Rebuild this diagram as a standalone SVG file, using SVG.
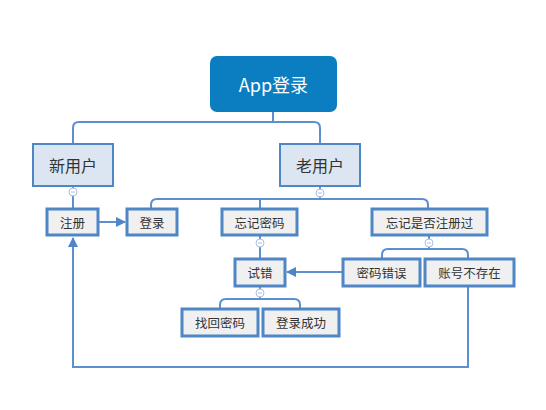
<svg xmlns="http://www.w3.org/2000/svg" width="546" height="410" viewBox="0 0 546 410">
<defs>
<style>
.ln{fill:none;stroke:#5b8fd0;stroke-width:2}
.sm rect{fill:#f0f0f0;stroke:#4f86c6;stroke-width:3}
.mid rect{fill:#dce6f2;stroke:#4f86c6;stroke-width:2}
text{font-family:"Noto Sans CJK SC","Microsoft YaHei",sans-serif;fill:#333;text-anchor:middle;dominant-baseline:central}
.sm text{font-size:12.5px}
.mid text{font-size:16px}
.cc{fill:#fff;stroke:#aac0e0;stroke-width:1}
.cm{stroke:#aac0e0;stroke-width:1}
</style>
<marker id="ah" viewBox="0 0 10 10" refX="9" refY="5" markerWidth="5" markerHeight="5" orient="auto" markerUnits="strokeWidth">
<path d="M0,0 L10,5 L0,10 z" fill="#4f86c6"/>
</marker>
</defs>
<rect width="546" height="410" fill="#fff"/>
<g id="connectors">
<path class="ln" d="M273,112 V122 H79 Q73,122 73,128 V144"/>
<path class="ln" d="M273,122 H314 Q320,122 320,128 V144"/>
<path class="ln" d="M73,186 V208"/>
<path class="ln" d="M320,186 V199 H157 Q151,199 151,205 V208"/>
<path class="ln" d="M320,199 H422 Q428,199 428,205 V208"/>
<path class="ln" d="M260,199 V208"/>
<path class="ln" d="M429,235 V249 H388 Q382,249 382,255 V259"/>
<path class="ln" d="M429,249 H462 Q468,249 468,255 V259"/>
<path class="ln" d="M260,235 V259"/>
<path class="ln" d="M260,286 V299 H226 Q220,299 220,305 V309"/>
<path class="ln" d="M260,299 H294 Q300,299 300,305 V309"/>
<path class="ln" d="M98,222 H125" marker-end="url(#ah)"/>
<path class="ln" d="M343,272 H287" marker-end="url(#ah)"/>
<path class="ln" d="M468,286 V367 H73 V238" marker-end="url(#ah)"/>
<circle class="cc" cx="73" cy="192" r="4"/><path class="cm" d="M71,192 H75"/>
<circle class="cc" cx="320" cy="193" r="4"/><path class="cm" d="M318,193 H322"/>
<circle class="cc" cx="260" cy="243" r="4"/><path class="cm" d="M258,243 H262"/>
<circle class="cc" cx="429" cy="243" r="4"/><path class="cm" d="M427,243 H431"/>
<circle class="cc" cx="260" cy="293" r="4"/><path class="cm" d="M258,293 H262"/>
</g>
<g id="root">
<rect x="210" y="56" width="127" height="56" rx="7" fill="#0b7dc1"/>
<text x="273.5" y="84" style="font-size:18px;fill:#fff">App登录</text>
</g>
<g id="n-new" class="mid"><rect x="33" y="144" width="80" height="42"/><text x="73" y="165">新用户</text></g>
<g id="n-old" class="mid"><rect x="280" y="144" width="80" height="42"/><text x="320" y="165">老用户</text></g>
<g id="n-reg" class="sm"><rect x="47" y="209" width="51" height="26"/><text x="72.5" y="222">注册</text></g>
<g id="n-login" class="sm"><rect x="127" y="209" width="50" height="26"/><text x="152" y="222">登录</text></g>
<g id="n-forgot" class="sm"><rect x="222" y="209" width="75" height="26"/><text x="259.5" y="222">忘记密码</text></g>
<g id="n-forgotreg" class="sm"><rect x="372" y="209" width="115" height="26"/><text x="429.5" y="222">忘记是否注册过</text></g>
<g id="n-try" class="sm"><rect x="235" y="259" width="50" height="27"/><text x="260" y="272.5">试错</text></g>
<g id="n-pwderr" class="sm"><rect x="343" y="259" width="77" height="27"/><text x="381.5" y="272.5">密码错误</text></g>
<g id="n-noacct" class="sm"><rect x="425" y="259" width="89" height="27"/><text x="469.5" y="272.5">账号不存在</text></g>
<g id="n-find" class="sm"><rect x="182" y="309" width="76" height="27"/><text x="220" y="322.5">找回密码</text></g>
<g id="n-ok" class="sm"><rect x="263" y="309" width="76" height="27"/><text x="301" y="322.5">登录成功</text></g>
</svg>
